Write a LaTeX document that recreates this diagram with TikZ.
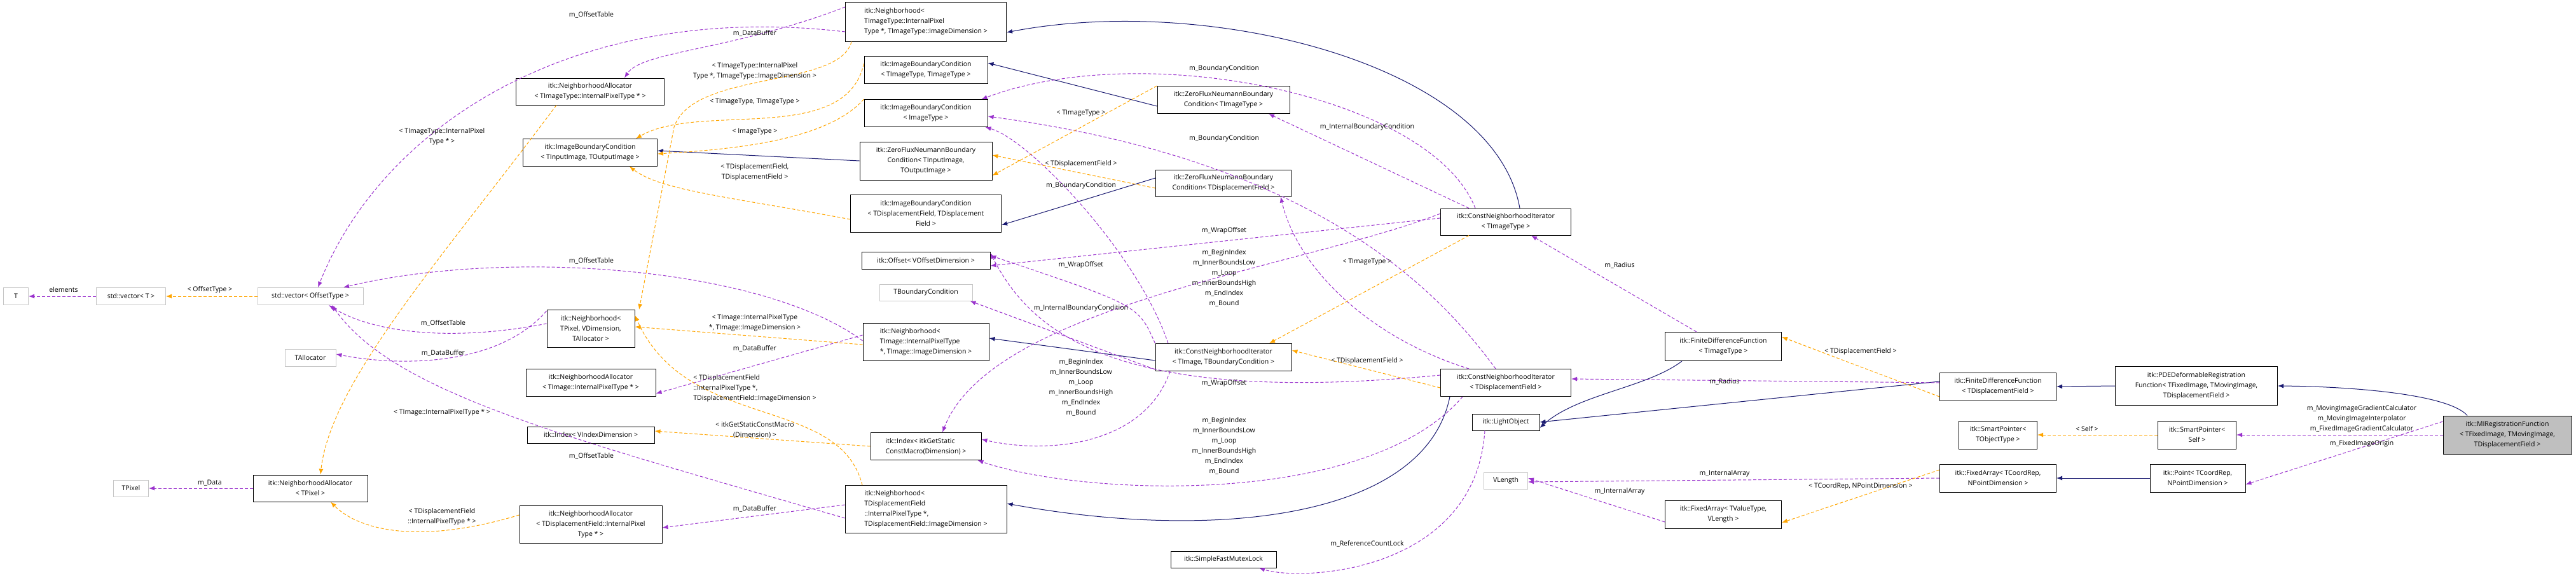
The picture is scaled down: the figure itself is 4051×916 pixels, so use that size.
\documentclass[tikz,border=0pt]{standalone}
\usepackage{fontspec}
\setmainfont{Open Sans}
\usetikzlibrary{arrows.meta}
\definecolor{usecol}{HTML}{9A32CD}
\definecolor{tplcol}{HTML}{FFA500}
\definecolor{inhcol}{HTML}{191970}
\tikzset{
  cls/.style={draw=black, line width=1pt, fill=white, inner sep=1pt, align=center, font=\fontsize{10.5}{16}\selectfont},
  ext/.style={cls, draw=gray!45},
  main/.style={cls, fill=gray!50},
  lbl/.style={font=\fontsize{10.5}{16}\selectfont, align=center, inner sep=0pt},
  use/.style={draw=usecol, line width=1pt, dash pattern=on 5pt off 3pt, -{Latex[length=9pt,width=7pt]}},
  tpl/.style={draw=tplcol, line width=1pt, dash pattern=on 5pt off 3pt, -{Latex[length=9pt,width=7pt]}},
  inh/.style={draw=inhcol, line width=1pt, -{Latex[length=9pt,width=7pt]}},
}
\begin{document}
\begin{tikzpicture}[x=1pt,y=-1pt]
\useasboundingbox (0,0) rectangle (4051,916);
% classes
\node[cls, align=left, minimum width=253, minimum height=62] (nb1) at (1456,34) {itk::Neighborhood\textless\\ TImageType::InternalPixel\\Type *, TImageType::ImageDimension \textgreater};
\node[cls, minimum width=233, minimum height=42] (na1) at (928,144) {itk::NeighborhoodAllocator\\\textless{} TImageType::InternalPixelType * \textgreater};
\node[cls, minimum width=211, minimum height=43] (ibc1) at (928,240) {itk::ImageBoundaryCondition\\\textless{} TInputImage, TOutputImage \textgreater};
\node[cls, minimum width=194, minimum height=43] (ibc2) at (1456,110) {itk::ImageBoundaryCondition\\\textless{} TImageType, TImageType \textgreater};
\node[cls, minimum width=194, minimum height=43] (ibc3) at (1456,178) {itk::ImageBoundaryCondition\\\textless{} ImageType \textgreater};
\node[cls, minimum width=208, minimum height=60] (zfn1) at (1456,253) {itk::ZeroFluxNeumannBoundary\\Condition\textless{} TInputImage,\\TOutputImage \textgreater};
\node[cls, minimum width=237, minimum height=59] (ibc4) at (1456,336) {itk::ImageBoundaryCondition\\\textless{} TDisplacementField, TDisplacement\\Field \textgreater};
\node[cls, minimum width=208, minimum height=43] (zfn2) at (1924,157) {itk::ZeroFluxNeumannBoundary\\Condition\textless{} TImageType \textgreater};
\node[cls, minimum width=213, minimum height=42] (zfn3) at (1924,288) {itk::ZeroFluxNeumannBoundary\\Condition\textless{} TDisplacementField \textgreater};
\node[cls, minimum width=202, minimum height=27] (offs) at (1456,410) {itk::Offset\textless{} VOffsetDimension \textgreater};
\node[ext, minimum width=146, minimum height=26] (tbc) at (1456,460) {TBoundaryCondition};
\node[cls, minimum width=205, minimum height=42] (cni1) at (2368,349) {itk::ConstNeighborhoodIterator\\\textless{} TImageType \textgreater};
\node[cls, align=left, minimum width=198, minimum height=59] (nb2) at (1456,538) {itk::Neighborhood\textless\\ TImage::InternalPixelType\\ *, TImage::ImageDimension \textgreater};
\node[cls, minimum width=214, minimum height=43] (cni2) at (1924,562) {itk::ConstNeighborhoodIterator\\\textless{} TImage, TBoundaryCondition \textgreater};
\node[cls, minimum width=205, minimum height=43] (cni3) at (2368,602) {itk::ConstNeighborhoodIterator\\\textless{} TDisplacementField \textgreater};
\node[cls, align=left, minimum width=174, minimum height=43] (idx2) at (1456,702) {itk::Index\textless{} itkGetStatic\\ConstMacro(Dimension) \textgreater};
\node[cls, align=left, minimum width=254, minimum height=75] (nb3) at (1456,801) {itk::Neighborhood\textless\\ TDisplacementField\\::InternalPixelType *,\\ TDisplacementField::ImageDimension \textgreater};
\node[cls, minimum width=106, minimum height=26] (light) at (2368,664) {itk::LightObject};
\node[ext, minimum width=69, minimum height=26] (vlen) at (2368,756) {VLength};
\node[cls, minimum width=166, minimum height=26] (sfml) at (1924,880) {itk::SimpleFastMutexLock};
\node[ext, minimum width=39, minimum height=27] (tt) at (25,466) {T};
\node[ext, minimum width=109, minimum height=27] (vect) at (206,466) {std::vector\textless{} T \textgreater};
\node[ext, minimum width=166, minimum height=27] (veco) at (488,466) {std::vector\textless{} OffsetType \textgreater};
\node[cls, minimum width=138, minimum height=59] (nb4) at (929,517) {itk::Neighborhood\textless\\TPixel, VDimension,\\TAllocator \textgreater};
\node[ext, minimum width=80, minimum height=27] (talloc) at (488,563) {TAllocator};
\node[cls, minimum width=204, minimum height=43] (na2) at (929,602) {itk::NeighborhoodAllocator\\\textless{} TImage::InternalPixelType * \textgreater};
\node[cls, minimum width=200, minimum height=26] (idx1) at (929,684) {itk::Index\textless{} VIndexDimension \textgreater};
\node[cls, minimum width=180, minimum height=42] (na3) at (488,768) {itk::NeighborhoodAllocator\\\textless{} TPixel \textgreater};
\node[ext, minimum width=55, minimum height=26] (tpix) at (206,768) {TPixel};
\node[cls, minimum width=224, minimum height=59] (na4) at (929,825) {itk::NeighborhoodAllocator\\\textless{} TDisplacementField::InternalPixel\\Type * \textgreater};
\node[cls, minimum width=183, minimum height=45] (fdf1) at (2710,545) {itk::FiniteDifferenceFunction\\\textless{} TImageType \textgreater};
\node[cls, minimum width=183, minimum height=44] (fdf2) at (3142,608) {itk::FiniteDifferenceFunction\\\textless{} TDisplacementField \textgreater};
\node[cls, minimum width=255, minimum height=61] (pde) at (3454,607) {itk::PDEDeformableRegistration\\Function\textless{} TFixedImage, TMovingImage,\\TDisplacementField \textgreater};
\node[main, minimum width=202, minimum height=60] (mi) at (3943,684) {itk::MIRegistrationFunction\\\textless{} TFixedImage, TMovingImage,\\TDisplacementField \textgreater};
\node[cls, minimum width=123, minimum height=44] (sp2) at (3455,684) {itk::SmartPointer\textless\\Self \textgreater};
\node[cls, minimum width=123, minimum height=44] (sp1) at (3142,684) {itk::SmartPointer\textless\\TObjectType \textgreater};
\node[cls, minimum width=183, minimum height=44] (fa1) at (3142,752) {itk::FixedArray\textless{} TCoordRep,\\NPointDimension \textgreater};
\node[cls, minimum width=150, minimum height=44] (pt) at (3456,752) {itk::Point\textless{} TCoordRep,\\NPointDimension \textgreater};
\node[cls, minimum width=183, minimum height=44] (fa2) at (2710,809) {itk::FixedArray\textless{} TValueType,\\VLength \textgreater};
% inheritance
\draw[inh] ([xshift=22]cni1.north) .. controls (2350,100) and (1900,-10) .. ([yshift=-17]nb1.east);
\draw[inh] ([yshift=-10]zfn2.west) -- ([yshift=11]ibc2.east);
\draw[inh] (zfn1.west) -- ([yshift=3]ibc1.east);
\draw[inh] ([yshift=8]zfn3.west) -- ([yshift=-18]ibc4.east);
\draw[inh] ([yshift=-5]cni2.west) -- ([yshift=6]nb2.east);
\draw[inh] ([xshift=-88]cni3.south) .. controls (2240,820) and (1900,850) .. ([yshift=9]nb3.east);
\draw[inh] ([xshift=-65]fdf1.south) .. controls (2590,610) and (2480,620) .. ([yshift=-9]light.east);
\draw[inh] ([yshift=8]fdf2.west) -- (light.east);
\draw[inh] (pde.west) -- (fdf2.east);
\draw[inh] ([xshift=-63]mi.north) .. controls (3850,620) and (3700,608) .. (pde.east);
\draw[inh] (pt.west) -- (fa1.east);
% usage
\draw[use] ([yshift=-16]nb1.west) .. controls (900,0) and (600,200) .. ([xshift=12]veco.north);
\draw[use] ([yshift=23]nb1.west) .. controls (1150,80) and (1010,80) .. ([xshift=54]na1.north);
\draw[use] ([yshift=8]nb4.west) .. controls (700,540) and (580,520) .. ([xshift=29]veco.south);
\draw[use] ([yshift=28]nb4.west) .. controls (780,580) and (620,575) .. ([yshift=6]talloc.east);
\draw[use] ([yshift=11]nb2.west) -- ([yshift=-17]na2.east);
\draw[use] ([yshift=-14]nb3.west) .. controls (900,690) and (620,620) .. ([xshift=34]veco.south);
\draw[use] ([yshift=7]nb3.west) -- ([yshift=-5]na4.east);
\draw[use] (na3.west) -- (tpix.east);
\draw[use] (vect.west) -- (tt.east);
\draw[use] ([yshift=-28]nb2.north west) .. controls (1200,420) and (800,390) .. ([xshift=52]veco.north);
\draw[use] ([xshift=-48]cni1.north) .. controls (2250,150) and (1800,60) .. ([xshift=-10]ibc3.north east);
\draw[use] ([xshift=-58]cni1.north) -- ([xshift=71]zfn2.south);
\draw[use] ([xshift=-16]cni3.north) .. controls (2250,440) and (2050,250) .. ([yshift=-5]ibc3.east);
\draw[use] ([xshift=-58]cni3.north) .. controls (2150,530) and (2040,420) .. ([xshift=90]zfn3.south);
\draw[use] ([xshift=-87]cni2.north) .. controls (1790,400) and (1620,220) .. ([xshift=-4]ibc3.south east);
\draw[use] ([yshift=6]cni1.west) -- ([yshift=-8]offs.east);
\draw[use] (cni2.north west) .. controls (1790,480) .. ([yshift=8]offs.east);
\draw[use] ([yshift=12]cni3.west) .. controls (1750,640) and (1620,520) .. ([yshift=12]offs.east);
\draw[use] ([yshift=13]cni1.west) .. controls (2050,420) and (1560,480) .. ([xshift=26]idx2.north);
\draw[use] ([xshift=-84]cni2.south) .. controls (1800,700) and (1650,715) .. ([yshift=11]idx2.east);
\draw[use] ([xshift=-68]cni3.south) .. controls (2150,800) and (1700,780) .. ([xshift=-6]idx2.south east);
\draw[use] ([yshift=-19]cni2.west) -- ([xshift=-4]tbc.south east);
\draw[use] ([yshift=6]fdf2.west) -- ([yshift=6]cni3.east);
\draw[use] ([xshift=-42]fdf1.north) -- ([xshift=40]cni1.south);
\draw[use] ([xshift=-33]light.south) .. controls (2320,900) and (2050,915) .. ([xshift=56]sfml.south);
\draw[use] (fa1.west) -- ([yshift=-2]vlen.east);
\draw[use] ([yshift=-12]fa2.west) -- ([yshift=4]vlen.east);
\draw[use] (mi.west) -- (sp2.east);
\draw[use] ([yshift=21]mi.west) -- ([yshift=-10]pt.east);
% templates
\draw[tpl] (veco.west) -- (vect.east);
\draw[tpl] ([xshift=-117]nb1.south) .. controls (1320,140) and (1090,110) .. (1060,200) -- ([xshift=76]nb4.north);
\draw[tpl] ([xshift=-53]na1.south) .. controls (700,400) and (520,600) .. ([xshift=16]na3.north);
\draw[tpl] ([yshift=10]ibc2.west) .. controls (1330,230) and (1100,160) .. ([xshift=72]ibc1.north);
\draw[tpl] ([yshift=22]ibc3.west) .. controls (1300,222) and (1150,235) .. ([yshift=-2]ibc1.east);
\draw[tpl] ([yshift=-9]ibc4.west) .. controls (1150,310) and (1040,300) .. ([xshift=62]ibc1.south);
\draw[tpl] ([yshift=22]zfn2.west) -- ([yshift=-23]zfn1.east);
\draw[tpl] ([yshift=-8]zfn3.west) -- ([yshift=9]zfn1.east);
\draw[tpl] ([yshift=-4]nb2.west) -- ([yshift=3]nb4.east);
\draw[tpl] ([xshift=-100]nb3.north) .. controls (1320,620) and (1080,680) .. ([yshift=21]nb4.east);
\draw[tpl] (idx2.west) -- ([yshift=6]idx1.east);
\draw[tpl] ([yshift=15]na4.west) .. controls (650,860) and (560,830) .. ([xshift=32]na3.south);
\draw[tpl] ([xshift=-58]cni1.south) -- ([xshift=72]cni2.north);
\draw[tpl] ([yshift=-8]cni3.west) -- ([yshift=11]cni2.east);
\draw[tpl] ([yshift=-16]fdf2.west) -- ([yshift=15]fdf1.east);
\draw[tpl] (sp2.west) -- (sp1.east);
\draw[tpl] ([yshift=13]fa1.west) -- ([yshift=-13]fa2.east);
% labels
\node[lbl] (l1) at (930,23) {m\_OffsetTable};
\node[lbl] (l2) at (1187,52) {m\_DataBuffer};
\node[lbl] (l3) at (1187,112) {\textless{} TImageType::InternalPixel\\Type *, TImageType::ImageDimension \textgreater};
\node[lbl] (l4) at (1187,160) {\textless{} TImageType, TImageType \textgreater};
\node[lbl] (l5) at (1187,207) {\textless{} ImageType \textgreater};
\node[lbl] (l6) at (695,215) {\textless{} TImageType::InternalPixel\\Type * \textgreater};
\node[lbl] (l7) at (1187,271) {\textless{} TDisplacementField,\\TDisplacementField \textgreater};
\node[lbl] (l8) at (1925,108) {m\_BoundaryCondition};
\node[lbl] (l9) at (1700,178) {\textless{} TImageType \textgreater};
\node[lbl] (l10) at (2150,200) {m\_InternalBoundaryCondition};
\node[lbl] (l11) at (1925,218) {m\_BoundaryCondition};
\node[lbl] (l12) at (1700,258) {\textless{} TDisplacementField \textgreater};
\node[lbl] (l13) at (1700,292) {m\_BoundaryCondition};
\node[lbl] (l14) at (1925,363) {m\_WrapOffset};
\node[lbl] (l15) at (1925,437) {m\_BeginIndex\\m\_InnerBoundsLow\\m\_Loop\\m\_InnerBoundsHigh\\m\_EndIndex\\m\_Bound};
\node[lbl] (l16) at (2150,412) {\textless{} TImageType \textgreater};
\node[lbl] (l17) at (1700,417) {m\_WrapOffset};
\node[lbl] (l18) at (930,410) {m\_OffsetTable};
\node[lbl] (l19) at (330,456) {\textless{} OffsetType \textgreater};
\node[lbl] (l20) at (100,456) {elements};
\node[lbl] (l21) at (697,508) {m\_OffsetTable};
\node[lbl] (l22) at (697,555) {m\_DataBuffer};
\node[lbl] (l23) at (1187,508) {\textless{} TImage::InternalPixelType\\*, TImage::ImageDimension \textgreater};
\node[lbl] (l24) at (1187,548) {m\_DataBuffer};
\node[lbl] (l25) at (1700,485) {m\_InternalBoundaryCondition};
\node[lbl] (l26) at (1700,609) {m\_BeginIndex\\m\_InnerBoundsLow\\m\_Loop\\m\_InnerBoundsHigh\\m\_EndIndex\\m\_Bound};
\node[lbl] (l27) at (2150,568) {\textless{} TDisplacementField \textgreater};
\node[lbl] (l28) at (1925,603) {m\_WrapOffset};
\node[lbl] (l29) at (1925,701) {m\_BeginIndex\\m\_InnerBoundsLow\\m\_Loop\\m\_InnerBoundsHigh\\m\_EndIndex\\m\_Bound};
\node[lbl, align=left] (l30) at (1187,611) {\textless{} TDisplacementField\\::InternalPixelType *,\\ TDisplacementField::ImageDimension \textgreater};
\node[lbl] (l31) at (695,649) {\textless{} TImage::InternalPixelType * \textgreater};
\node[lbl] (l32) at (1187,676) {\textless{} itkGetStaticConstMacro\\(Dimension) \textgreater};
\node[lbl] (l33) at (930,717) {m\_OffsetTable};
\node[lbl] (l34) at (1187,800) {m\_DataBuffer};
\node[lbl] (l35) at (330,760) {m\_Data};
\node[lbl] (l36) at (695,813) {\textless{} TDisplacementField\\::InternalPixelType * \textgreater};
\node[lbl] (l37) at (2150,855) {m\_ReferenceCountLock};
\node[lbl] (l38) at (2547,417) {m\_Radius};
\node[lbl] (l39) at (2926,553) {\textless{} TDisplacementField \textgreater};
\node[lbl] (l40) at (2712,600) {m\_Radius};
\node[lbl] (l41) at (3714,659) {m\_MovingImageGradientCalculator\\m\_MovingImageInterpolator\\m\_FixedImageGradientCalculator};
\node[lbl] (l42) at (3282,675) {\textless{} Self \textgreater};
\node[lbl] (l43) at (3714,698) {m\_FixedImageOrigin};
\node[lbl] (l44) at (2712,745) {m\_InternalArray};
\node[lbl] (l45) at (2926,765) {\textless{} TCoordRep, NPointDimension \textgreater};
\node[lbl] (l46) at (2547,773) {m\_InternalArray};
\end{tikzpicture}
\end{document}
